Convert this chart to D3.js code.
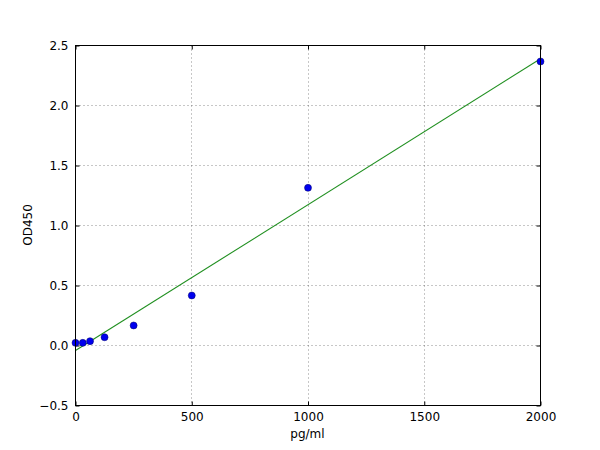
<!DOCTYPE html>
<html>
<head>
<meta charset="utf-8">
<script src="https://cdn.jsdelivr.net/npm/d3@7"></script>
<style>
  body { margin: 0; background: #fff; }
  text { font-family: "DejaVu Sans", sans-serif; }
</style>
</head>
<body>
<div id="chart"></div>
<script>
// standard concentrations and measured OD
const concentrations = [0, 31.25, 62.5, 125, 250, 500, 1000, 2000];
const odValues = [0.022, 0.022, 0.036, 0.069, 0.167, 0.417, 1.314, 2.367];
// fitted line end points
const fitX = [0, 2000];
const fitY = [-0.042, 2.389];
const xTicks = [0, 500, 1000, 1500, 2000];
const yTicks = [-0.5, 0, 0.5, 1.0, 1.5, 2.0, 2.5];

const svgWidth = 600, svgHeight = 450;
const margin = { top: 45, right: 60, bottom: 45, left: 75 };
const width = svgWidth - margin.left - margin.right;
const height = svgHeight - margin.top - margin.bottom;

const svg = d3.select("#chart").append("svg")
    .attr("width", svgWidth)
    .attr("height", svgHeight);

const g = svg.append("g")
    .attr("transform", `translate(${margin.left + 0.5},${margin.top + 0.5})`);

const x = d3.scaleLinear().domain([0, 2000]).range([0, width]);
const y = d3.scaleLinear().domain([-0.5, 2.5]).range([height, 0]);

// grid (inner lines only, edges are covered by the frame)
g.append("g")
    .selectAll("line")
    .data(xTicks.slice(1, -1))
    .join("line")
    .attr("x1", d => Math.round(x(d))).attr("x2", d => Math.round(x(d)))
    .attr("y1", 0).attr("y2", height)
    .attr("stroke", "#444").attr("stroke-width", 0.6)
    .attr("stroke-dasharray", "1,3");

g.append("g")
    .selectAll("line")
    .data(yTicks.slice(1, -1))
    .join("line")
    .attr("x1", 0).attr("x2", width)
    .attr("y1", d => y(d)).attr("y2", d => y(d))
    .attr("stroke", "#444").attr("stroke-width", 0.6)
    .attr("stroke-dasharray", "1,3");

// axes (ticks pointing inwards, labels outside)
const xAxis = d3.axisBottom(x).tickValues(xTicks).tickFormat(d3.format("d"))
    .tickSizeInner(-4).tickSizeOuter(0).tickPadding(7);
const yAxis = d3.axisLeft(y).tickValues(yTicks).tickFormat(d3.format(".1f"))
    .tickSizeInner(-4).tickSizeOuter(0).tickPadding(7);

const gx = g.append("g").attr("transform", `translate(0,${height})`).call(xAxis);
const gy = g.append("g").call(yAxis);
[gx, gy].forEach(a => {
    a.select(".domain").remove();
    a.selectAll("text").attr("font-size", 12).attr("fill", "#000")
        .style("font-family", "'DejaVu Sans', sans-serif");
    a.selectAll("line").attr("stroke", "#000");
});
gy.selectAll("text").text(d => d < 0 ? "\u22120.5" : d3.format(".1f")(d));

// top and right ticks
g.append("g")
    .call(d3.axisTop(x).tickValues(xTicks).tickSizeInner(-4).tickSizeOuter(0).tickFormat(""))
    .call(a => a.select(".domain").remove());
g.append("g").attr("transform", `translate(${width},0)`)
    .call(d3.axisRight(y).tickValues(yTicks).tickSizeInner(-4).tickSizeOuter(0).tickFormat(""))
    .call(a => a.select(".domain").remove());

// fitted line
const line = d3.line().x(d => x(d[0])).y(d => y(d[1]));
g.append("path")
    .datum(d3.zip(fitX, fitY))
    .attr("fill", "none")
    .attr("stroke", "#1f8f1f")
    .attr("stroke-width", 1.1)
    .attr("d", line);

// points
g.append("g")
    .selectAll("circle")
    .data(d3.zip(concentrations, odValues))
    .join("circle")
    .attr("cx", d => x(d[0]))
    .attr("cy", d => y(d[1]))
    .attr("r", 3.5)
    .attr("fill", "#0000ee")
    .attr("stroke", "#000066")
    .attr("stroke-width", 0.5);

// frame
g.append("rect")
    .attr("width", width).attr("height", height)
    .attr("fill", "none").attr("stroke", "#000").attr("stroke-width", 1);

// axis labels
svg.append("text")
    .attr("x", margin.left + width / 2)
    .attr("y", 438)
    .attr("text-anchor", "middle")
    .attr("font-size", 12)
    .text("pg/ml");

svg.append("text")
    .attr("transform", `translate(32,${margin.top + height / 2}) rotate(-90)`)
    .attr("text-anchor", "middle")
    .attr("font-size", 12)
    .text("OD450");
</script>
</body>
</html>
